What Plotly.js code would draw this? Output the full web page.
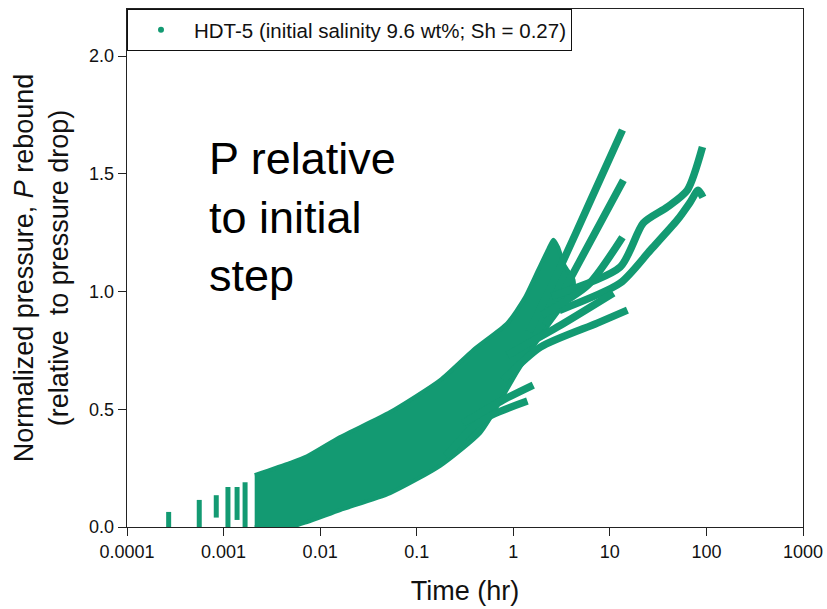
<!DOCTYPE html>
<html>
<head>
<meta charset="utf-8">
<script src="https://cdn.plot.ly/plotly-3.0.1.min.js"></script>
<style>
  html, body { margin: 0; padding: 0; background: #ffffff; }
  #chart { width: 827px; height: 609px; }
</style>
</head>
<body>
<div id="chart"></div>
<script>
// ---- Data (time in hr, normalized pressure) ----
const seriesName = "HDT-5 (initial salinity 9.6 wt%; Sh = 0.27)";

// early measurement columns
const barTime = [0.00027, 0.00056, 0.00084, 0.00111, 0.00138, 0.00167];
const barLow  = [0.0, 0.0, 0.04, 0.0, 0.03, 0.0];
const barHigh = [0.064, 0.115, 0.135, 0.17, 0.17, 0.19];

// dense main band (upper and lower envelope)
const bandUpperTime = [0.0021, 0.0049, 0.0073, 0.0161, 0.0531, 0.175, 0.385, 0.867, 1.3, 1.8, 2.3, 2.6, 2.9, 3.4, 4.2];
const bandUpper     = [0.22, 0.272, 0.30, 0.382, 0.488, 0.624, 0.752, 0.866, 0.97, 1.09, 1.18, 1.22, 1.19, 1.11, 1.05];
const bandLowerTime = [0.0021, 0.0049, 0.0073, 0.0161, 0.0531, 0.175, 0.455, 0.7, 1.1, 1.91, 3.4, 4.2];
const bandLower     = [0.0, 0.0, 0.021, 0.072, 0.144, 0.26, 0.40, 0.52, 0.66, 0.81, 0.95, 1.0];

// individual tails that leave the band
const branchATime = [1.46, 3.07, 6.3, 13.5];
const branchAVal  = [0.83, 1.104, 1.386, 1.686];
const branchBTime = [2.15, 4.95, 13.8];
const branchBVal  = [0.858, 1.134, 1.473];
const branchCTime = [2.5, 12.8, 22.2, 39.4, 63.5, 91];
const branchCVal  = [0.98, 1.104, 1.291, 1.359, 1.431, 1.614];
const branchDTime = [3.0, 12.8, 26.3, 50, 68, 82, 92];
const branchDVal  = [0.92, 1.036, 1.176, 1.304, 1.38, 1.43, 1.40];
const branchETime = [2.0, 6.0, 13.5];
const branchEVal  = [0.90, 1.03, 1.231];
const branchFTime = [0.87, 2.86, 10.9];
const branchFVal  = [0.73, 0.849, 0.994];
const branchGTime = [0.787, 1.91, 7.41, 15.2];
const branchGVal  = [0.624, 0.764, 0.866, 0.921];
const branchHTime = [0.2, 0.455, 1.40];
const branchHVal  = [0.30, 0.45, 0.535];
const branchITime = [0.30, 0.787, 1.61];
const branchIVal  = [0.44, 0.54, 0.603];

const xTickVals = [0.0001, 0.001, 0.01, 0.1, 1, 10, 100, 1000];
const xTickText = ["0.0001", "0.001", "0.01", "0.1", "1", "10", "100", "1000"];
const yTickVals = [0, 0.5, 1.0, 1.5, 2.0];
const yTickText = ["0.0", "0.5", "1.0", "1.5", "2.0"];

// ---- Build traces ----
const GREEN = "rgb(19,154,114)";
const FONT = "Arial, 'Liberation Sans', sans-serif";

const traces = [];

// columns: one trace, segments separated by null
const bx = [], by = [];
barTime.forEach((t, i) => { bx.push(t, t, null); by.push(barLow[i], barHigh[i], null); });
traces.push({ x: bx, y: by, type: "scatter", mode: "lines",
  line: { color: GREEN, width: 5 }, showlegend: false, hoverinfo: "skip" });

// band polygon
const polyX = bandUpperTime.concat(bandLowerTime.slice().reverse());
const polyY = bandUpper.concat(bandLower.slice().reverse());
traces.push({ x: polyX, y: polyY, type: "scatter", mode: "lines", fill: "toself",
  fillcolor: GREEN, line: { color: GREEN, width: 4, shape: "spline", smoothing: 0.6 },
  showlegend: false, hoverinfo: "skip" });

const branches = [
  [branchATime, branchAVal], [branchBTime, branchBVal], [branchCTime, branchCVal],
  [branchDTime, branchDVal], [branchETime, branchEVal], [branchFTime, branchFVal],
  [branchGTime, branchGVal], [branchHTime, branchHVal], [branchITime, branchIVal]
];
branches.forEach(([t, v]) => {
  traces.push({ x: t, y: v, type: "scatter", mode: "lines",
    line: { color: GREEN, width: 7.5, shape: "spline", smoothing: 0.7 },
    showlegend: false, hoverinfo: "skip" });
});

// legend entry (marker symbol)
traces.push({ x: [null], y: [null], type: "scatter", mode: "markers", name: seriesName,
  marker: { color: GREEN, size: 6 }, showlegend: true });

const layout = {
  width: 827, height: 609,
  margin: { l: 127, r: 24, t: 9, b: 82 },
  paper_bgcolor: "#ffffff", plot_bgcolor: "#ffffff",
  font: { family: FONT, color: "#111111" },
  xaxis: {
    type: "log", range: [-4, 3],
    tickvals: xTickVals, ticktext: xTickText,
    ticks: "outside", ticklen: 8, tickwidth: 1, tickcolor: "#222",
    showline: true, linecolor: "#222", linewidth: 1.3, mirror: true,
    showgrid: false, zeroline: false,
    tickfont: { size: 18, family: FONT, color: "#111" },
    title: { text: "Time (hr)", font: { size: 27, family: FONT, color: "#111" }, standoff: 20 }
  },
  yaxis: {
    range: [0, 2.2],
    tickvals: yTickVals, ticktext: yTickText,
    ticks: "outside", ticklen: 8, tickwidth: 1, tickcolor: "#222",
    showline: true, linecolor: "#222", linewidth: 1.3, mirror: true,
    showgrid: false, zeroline: false,
    tickfont: { size: 18, family: FONT, color: "#111" },
    title: { text: "Normalized pressure, <i>P</i> rebound<br>(relative  to pressure drop)",
      font: { size: 27, family: FONT, color: "#111" }, standoff: 12 }
  },
  showlegend: true,
  legend: {
    x: 0, y: 1, xanchor: "left", yanchor: "top",
    bgcolor: "#ffffff", bordercolor: "#111", borderwidth: 1,
    font: { size: 20.5, family: FONT, color: "#111" },
    itemwidth: 56
  },
  annotations: [{
    xref: "paper", yref: "paper", x: 0.118, y: 0.765, xanchor: "left", yanchor: "top",
    align: "left", showarrow: false,
    text: "P relative<br>to initial<br>step",
    font: { size: 45, family: FONT, color: "#000" }
  }]
};

Plotly.newPlot("chart", traces, layout, { displayModeBar: false, staticPlot: true });
</script>
</body>
</html>
